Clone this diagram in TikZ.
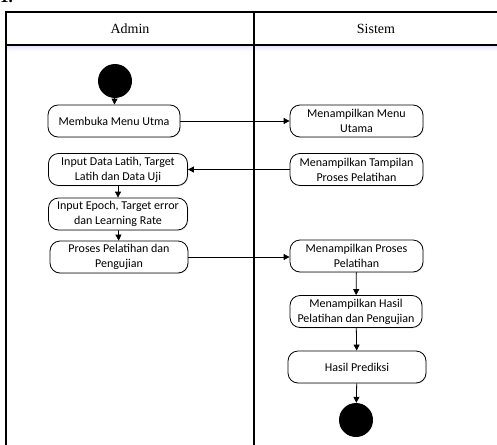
\documentclass[tikz,border=0pt]{standalone}
\usepackage{fontspec}
\setmainfont{Liberation Serif}
\newfontfamily\boxfont{Carlito}
\usetikzlibrary{arrows.meta,shadows}
\tikzset{
  act/.style={draw, line width=0.8pt, rounded corners=10pt, minimum height=32pt,
    align=center, font=\boxfont\fontsize{12}{15}\selectfont, inner sep=1pt,
    fill=white, drop shadow={shadow xshift=1pt, shadow yshift=-1pt, opacity=0.15}},
  dot/.style={circle, fill=black, minimum size=34pt, inner sep=0pt},
  flow/.style={line width=0.8pt, -{Triangle[length=6pt,width=6pt]}},
  lane/.style={line width=1.1pt},
  hdr/.style={font=\fontsize{14}{16}\selectfont}
}
\begin{document}
\begin{tikzpicture}[x=1pt,y=-1pt]
\useasboundingbox (0,0) rectangle (497,444);
% fragment of heading
\node[anchor=base west, inner sep=0pt, font=\bfseries\fontsize{17}{18}\selectfont] (num) at (0,3) {1.};
% header shading
\shade[top color=blue!12, bottom color=white] (6,45) rectangle (497,51);
% lanes
\coordinate (tl) at (6,12);
\coordinate (tr) at (498,12);
\coordinate (hl) at (6,45);
\coordinate (hr) at (498,45);
\coordinate (bl) at (6,445);
\coordinate (dt) at (254,12);
\coordinate (db) at (254,445);
\draw[lane] (bl) -- (tl) -- (tr);
\draw[lane] (hl) -- (hr);
\draw[lane] (dt) -- (db);
\node[hdr] (admin) at (130,29) {Admin};
\node[hdr] (sistem) at (376,29) {Sistem};
% admin lane
\node[dot] (start) at (115,81) {};
\node[act, minimum width=132pt] (a1) at (114,121) {Membuka Menu Utma};
\node[act, minimum width=139pt] (a2) at (118,169.5) {Input Data Latih, Target\\Latih dan Data Uji};
\node[act, minimum width=139pt] (a3) at (118,214) {Input Epoch, Target error\\dan Learning Rate};
\node[act, minimum width=138pt] (a4) at (119,257) {Proses Pelatihan dan\\Pengujian};
% sistem lane
\node[act, minimum width=133pt] (s1) at (356.5,121) {Menampilkan Menu\\Utama};
\node[act, minimum width=133pt] (s2) at (356.5,169.5) {Menampilkan Tampilan\\Proses Pelatihan};
\node[act, minimum width=133pt] (s3) at (356.5,256) {Menampilkan Proses\\Pelatihan};
\node[act, minimum width=132pt] (s4) at (356,311.5) {Menampilkan Hasil\\Pelatihan dan Pengujian};
\node[act, minimum width=138pt] (s5) at (357,367) {Hasil Prediksi};
\node[dot] (end) at (356,420) {};
% flows
\draw[flow] (start) -- (a1);
\draw[flow] (a1) -- (s1);
\draw[flow] (s2) -- (a2);
\draw[flow] (a2) -- (a3);
\draw[flow] (a3) -- (a4);
\draw[flow] (a4.east) -- (s3.west |- a4.east);
\draw[flow] (s3) -- (s4);
\draw[flow] (s4) -- (s5);
\draw[flow] (s5) -- (end);
\end{tikzpicture}
\end{document}
